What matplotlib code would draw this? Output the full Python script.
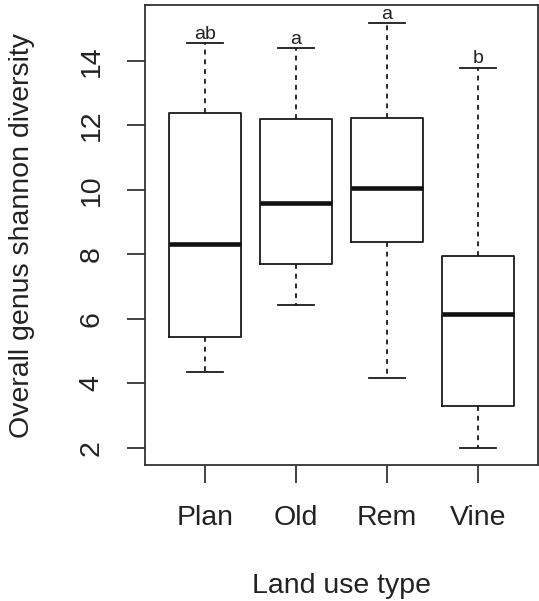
import numpy as np
import matplotlib
matplotlib.use('Agg')
import matplotlib.pyplot as plt

plt.rcParams['font.family'] = ['Liberation Sans', 'DejaVu Sans']

# Box summaries for each land use type
land_use = ['Plan', 'Old', 'Rem', 'Vine']
whisker_lo = [4.35, 6.43, 4.16, 2.00]
quart_lo = [5.44, 7.71, 8.37, 3.29]
medians = [8.33, 9.59, 10.05, 6.14]
quart_hi = [12.38, 12.20, 12.24, 7.96]
whisker_hi = [14.55, 14.38, 15.17, 13.79]
groups = ['ab', 'a', 'a', 'b']

stats = []
for i in range(len(land_use)):
    stats.append(dict(label=land_use[i], whislo=whisker_lo[i], q1=quart_lo[i],
                      med=medians[i], q3=quart_hi[i], whishi=whisker_hi[i]))

fig = plt.figure(figsize=(5.39, 6.01), dpi=100)
ax = fig.add_axes([145/539, 1 - 465/601, 393/539, 460/601])

lw = 1.3
ax.bxp(stats, positions=[1, 2, 3, 4], widths=0.8, capwidths=0.4,
       showfliers=False,
       boxprops=dict(color='#1a1a1a', linewidth=lw),
       whiskerprops=dict(color='#1a1a1a', linewidth=lw, linestyle=(0, (2.7, 2.7))),
       capprops=dict(color='#1a1a1a', linewidth=lw),
       medianprops=dict(color='#111111', linewidth=3.3, solid_capstyle='butt'))

# significance letters above each upper whisker
for i, g in enumerate(groups):
    ax.text(i + 1, whisker_hi[i] + 0.13, g, ha='center', va='baseline',
            fontsize=14, color='#222222')

ax.set_xlim(0.34, 4.66)
ax.set_ylim(1.472, 15.728)
ax.set_yticks([2, 4, 6, 8, 10, 12, 14])
ax.set_xticks([1, 2, 3, 4])
ax.set_xticklabels(land_use)

for s in ax.spines.values():
    s.set_linewidth(lw)
    s.set_color('#333333')

ax.tick_params(axis='both', length=13, width=lw, color='#333333',
               labelsize=20.5, labelcolor='#222222')
ax.tick_params(axis='x', pad=15.5)
ax.tick_params(axis='y', pad=16)
for t in ax.get_yticklabels():
    t.set_rotation(90)
    t.set_va('center')

fig.text(341.5/539, 1 - 592.7/601, 'Land use type', ha='center', va='baseline',
         fontsize=20.5, color='#222222')
fig.text(22/539, 1 - 235/601, 'Overall genus shannon diversity', ha='center',
         va='center', rotation=90, fontsize=20.5, color='#222222')

fig.savefig('out.png', dpi=100)
